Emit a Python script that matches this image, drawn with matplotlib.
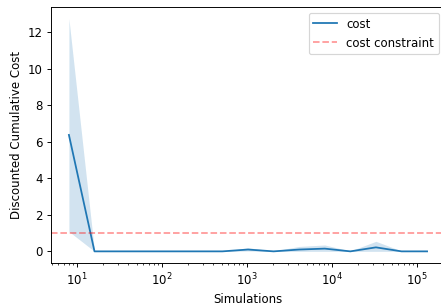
import numpy as np
import matplotlib
matplotlib.use("Agg")
import matplotlib.pyplot as plt

sims = [8, 16, 32, 64, 128, 256, 512, 1024, 2048, 4096, 8192, 16384, 32768, 65536, 131072]
cost_mean = [6.38, 0.0, 0.0, 0.0, 0.0, 0.0, 0.0, 0.10, 0.0, 0.10, 0.15, 0.0, 0.22, 0.0, 0.0]
cost_upper = [12.75, 0.0, 0.0, 0.0, 0.0, 0.0, 0.0, 0.20, 0.02, 0.27, 0.35, 0.02, 0.55, 0.02, 0.02]
cost_lower = [1.09, 0.0, 0.0, 0.0, 0.0, 0.0, 0.0, 0.02, 0.0, 0.0, 0.0, 0.0, 0.0, 0.0, 0.0]
constraint = 1.0

DPI = 85
fig = plt.figure(figsize=(441/DPI, 308/DPI), dpi=DPI)
ax = fig.add_axes([51/441, 45/308, 394/441, 256/308])
ax.plot(sims, cost_mean, color='C0', label='cost')
ax.fill_between(sims, cost_lower, cost_upper, color='C0', alpha=0.2, linewidth=0)
ax.axhline(constraint, color='r', linestyle='--', alpha=0.4, label='cost constraint')
ax.set_xscale('log')
ax.set_xlabel('Simulations')
ax.set_ylabel('Discounted Cumulative Cost')
ax.legend(loc='upper right')
fig.savefig('out.png', dpi=DPI)
